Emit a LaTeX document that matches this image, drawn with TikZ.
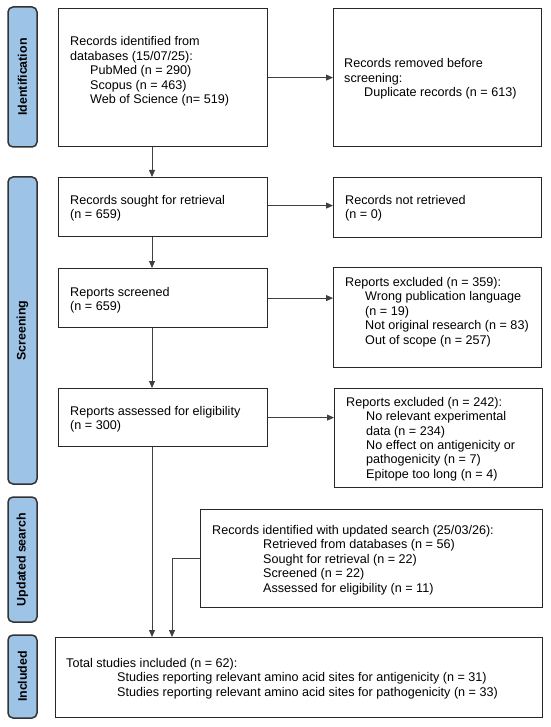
\documentclass[tikz,border=0pt]{standalone}
\usepackage{fontspec}
\setmainfont{Liberation Sans}
\usetikzlibrary{arrows.meta,calc}
\definecolor{phaseblue}{RGB}{157,195,230}
\definecolor{lineclr}{RGB}{40,40,40}
\begin{document}
\begin{tikzpicture}[x=1pt,y=-1pt,
  box/.style={draw=lineclr, line width=1.2pt, anchor=north west, inner sep=0pt},
  txt/.style={anchor=west, align=left, inner sep=0pt, font=\fontsize{12.6}{14.4}\selectfont},
  phase/.style={draw=black!80, line width=1.5pt, rounded corners=5pt, fill=phaseblue,
     inner sep=0pt, rotate=90, font=\bfseries\fontsize{12.4}{14.4}\selectfont},
  arr/.style={draw=black!75, line width=0.8pt, -{Triangle[length=7pt,width=6pt]}}]
\useasboundingbox (0,0) rectangle (550,727);
\fill[white] (0,0) rectangle (550,727);
% phase labels
\node[phase, minimum width=140pt, minimum height=29pt] (p1) at (22.5,77) {Identification};
\node[phase, minimum width=307pt, minimum height=29pt] (p2) at (22.5,330.5) {Screening};
\node[phase, minimum width=125pt, minimum height=29pt] (p3) at (22.5,559.5) {Updated search};
\node[phase, minimum width=83pt, minimum height=29pt] (p4) at (22.5,676.5) {Included};
% boxes
\node[box, minimum width=209pt, minimum height=138pt] (b1) at (58,8) {};
\node[box, minimum width=208pt, minimum height=138pt] (b2) at (333,8) {};
\node[box, minimum width=209pt, minimum height=59pt] (b3) at (58,177) {};
\node[box, minimum width=208pt, minimum height=60pt] (b4) at (333,177) {};
\node[box, minimum width=209pt, minimum height=59pt] (b5) at (58,268) {};
\node[box, minimum width=208pt, minimum height=100pt] (b6) at (333,267) {};
\node[box, minimum width=209pt, minimum height=58pt] (b7) at (58,388) {};
\node[box, minimum width=208pt, minimum height=99pt] (b8) at (334,388) {};
\node[box, minimum width=342pt, minimum height=98pt] (b9) at (200,509) {};
\node[box, minimum width=487pt, minimum height=80pt] (b10) at (55,637) {};
% texts
\node[txt] (t1) at (70,71.5) {Records identified from\\databases (15/07/25):\\\hspace*{20pt}PubMed (n = 290)\\\hspace*{20pt}Scopus (n = 463)\\\hspace*{20pt}Web of Science (n= 519)};
\node[txt] (t2) at (344,79) {Records removed before\\screening:\\\hspace*{20pt}Duplicate records (n = 613)};
\node[txt] (t3) at (70,208.5) {Records sought for retrieval\\(n = 659)};
\node[txt] (t4) at (345,208.5) {Records not retrieved\\(n = 0)};
\node[txt] (t5) at (70,300) {Reports screened\\(n = 659)};
\node[txt] (t6) at (345,312) {Reports excluded (n = 359):\\\hspace*{20pt}Wrong publication language\\\hspace*{20pt}(n = 19)\\\hspace*{20pt}Not original research (n = 83)\\\hspace*{20pt}Out of scope (n = 257)};
\node[txt] (t7) at (70,419) {Reports assessed for eligibility\\(n = 300)};
\node[txt] (t8) at (346,439) {Reports excluded (n = 242):\\\hspace*{20pt}No relevant experimental\\\hspace*{20pt}data (n = 234)\\\hspace*{20pt}No effect on antigenicity or\\\hspace*{20pt}pathogenicity (n = 7)\\\hspace*{20pt}Epitope too long (n = 4)};
\node[txt] (t9) at (212,560) {Records identified with updated search (25/03/26):\\\hspace*{51pt}Retrieved from databases (n = 56)\\\hspace*{51pt}Sought for retrieval (n = 22)\\\hspace*{51pt}Screened (n = 22)\\\hspace*{51pt}Assessed for eligibility (n = 11)};
\node[txt] (t10) at (66,678.5) {Total studies included (n = 62):\\\hspace*{51pt}Studies reporting relevant amino acid sites for antigenicity (n = 31)\\\hspace*{51pt}Studies reporting relevant amino acid sites for pathogenicity (n = 33)};
% connectors
\coordinate (vx) at (152,0);
\coordinate (ux) at (172,0);
\draw[arr] (b1.east) -- (b1.east -| b2.west);
\draw[arr] (b3.east) ++(0,-1.5) coordinate (a3) (a3) -- (a3 -| b4.west);
\draw[arr] (b5.east) -- (b5.east -| b6.west);
\draw[arr] (b7.east) -- (b7.east -| b8.west);
\draw[arr] (b1.south -| vx) -- (b3.north -| vx);
\draw[arr] (b3.south -| vx) -- (b5.north -| vx);
\draw[arr] (b5.south -| vx) -- (b7.north -| vx);
\draw[arr] (b7.south -| vx) -- (b10.north -| vx);
\coordinate (c9) at ($(b9.north west)+(0,49)$);
\draw[arr] (c9) -- (c9 -| ux) -- (b10.north -| ux);
\end{tikzpicture}
\end{document}
